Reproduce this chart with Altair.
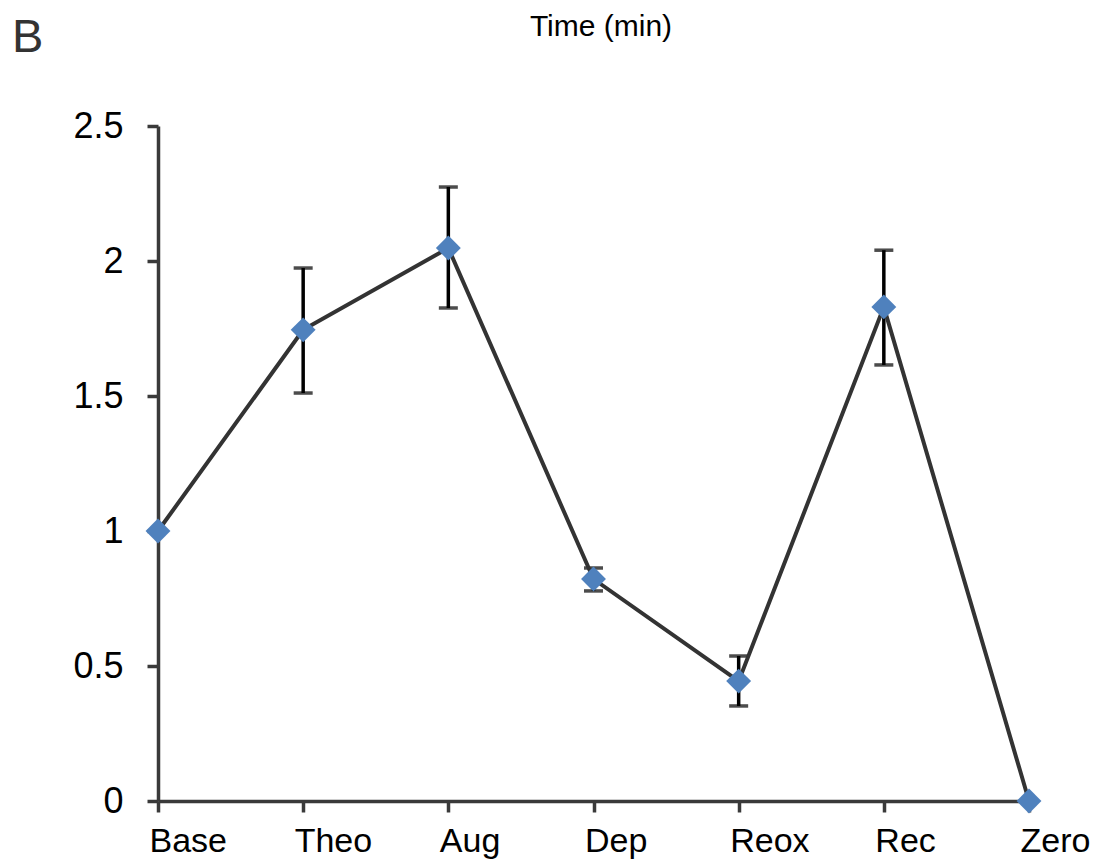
import altair as alt
import pandas as pd

categories = ["Base", "Theo", "Aug", "Dep", "Reox", "Rec", "Zero"]
values = [1.0, 1.745, 2.048, 0.822, 0.444, 1.830, 0.0]
err_low = [None, 1.511, 1.826, 0.778, 0.352, 1.615, None]
err_high = [None, 1.974, 2.274, 0.863, 0.537, 2.040, None]
y_ticks = [0, 0.5, 1, 1.5, 2, 2.5]
panel_label = "B"
x_title = "Time (min)"

df = pd.DataFrame({"cat": categories, "val": values, "lo": err_low, "hi": err_high})
df_err = df.dropna()

FONT = "Liberation Sans"
AXIS_COLOR = "#3a3a3a"

x_enc = alt.X(
    "cat:N",
    sort=categories,
    scale=alt.Scale(type="point", padding=0),
    axis=alt.Axis(
        title=None,
        labelAlign="left",
        labelOffset=-9,
        labelBaseline="alphabetic",
        labelPadding=39,
        labelFontSize=34,
        labelFont=FONT,
        labelColor="#000000",
        labelAngle=0,
        tickSize=11,
        tickWidth=3.5,
        tickColor=AXIS_COLOR,
        domainColor=AXIS_COLOR,
        domainWidth=3.5,
        grid=False,
    ),
)
y_scale = alt.Scale(domain=[0, 2.5], nice=False, zero=True)
y_axis = alt.Axis(
    title=None,
    values=y_ticks,
    format="~g",
    labelFontSize=36,
    labelFont=FONT,
    labelColor="#000000",
    labelPadding=24,
    tickSize=11,
    tickWidth=3.5,
    tickColor=AXIS_COLOR,
    domainColor=AXIS_COLOR,
    domainWidth=3.5,
    grid=False,
)

base = alt.Chart(df)

stems = alt.Chart(df_err).mark_rule(color="#000000", strokeWidth=3.5).encode(
    x=x_enc,
    y=alt.Y("lo:Q", scale=y_scale, axis=y_axis),
    y2="hi:Q",
)
caps_lo = alt.Chart(df_err).mark_tick(color="#000000", thickness=3.5, size=19).encode(
    x=x_enc, y=alt.Y("lo:Q", scale=y_scale, axis=y_axis)
)
caps_hi = alt.Chart(df_err).mark_tick(color="#000000", thickness=3.5, size=19).encode(
    x=x_enc, y=alt.Y("hi:Q", scale=y_scale, axis=y_axis)
)
line = base.mark_line(color="#333333", strokeWidth=4).encode(
    x=x_enc, y=alt.Y("val:Q", scale=y_scale, axis=y_axis)
)
points = base.mark_point(
    shape="diamond", filled=True, size=620, color="#4F81BD", opacity=1
).encode(x=x_enc, y=alt.Y("val:Q", scale=y_scale, axis=y_axis))

label_b = alt.Chart(pd.DataFrame({"t": [panel_label]})).mark_text(
    fontSize=47, font=FONT, color="#333333", align="left", baseline="alphabetic"
).encode(text="t:N", x=alt.value(-146), y=alt.value(-74))

label_title = alt.Chart(pd.DataFrame({"t": [x_title]})).mark_text(
    fontSize=30, font=FONT, color="#000000", align="center", baseline="alphabetic"
).encode(text="t:N", x=alt.value(443), y=alt.value(-90))

chart = (
    alt.layer(stems, caps_lo, caps_hi, line, points, label_b, label_title)
    .properties(
        width=871,
        height=675,
        autosize=alt.AutoSizeParams(type="none"),
        padding={"left": 150, "top": 118, "right": 62, "bottom": 58},
    )
    .configure_view(stroke=None)
)

chart.save("out.html", embed_options={"renderer": "svg", "actions": False})
